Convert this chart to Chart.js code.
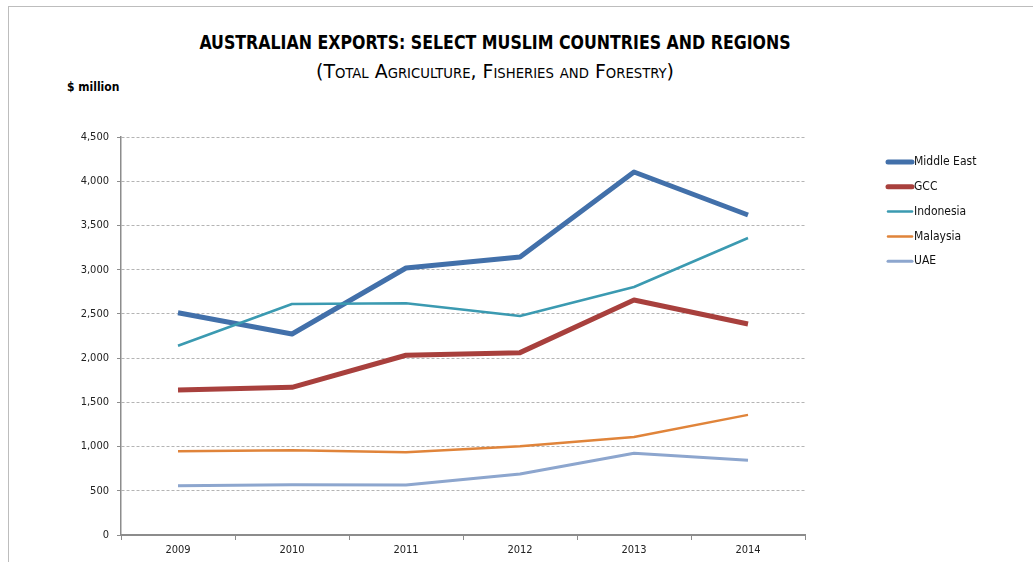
<!DOCTYPE html>
<html>
<head>
<meta charset="utf-8">
<script src="https://cdn.jsdelivr.net/npm/chart.js@4.4.1/dist/chart.umd.min.js"></script>
<style>
  body { margin: 0; background: #fff; }
  #wrap { position: relative; width: 1033px; height: 562px; overflow: hidden; }
  #frame { position: absolute; left: 8px; top: 6px; width: 1100px; height: 600px; border-top: 1px solid #bdbdbd; border-left: 1px solid #bdbdbd; }
  .t { position: absolute; left: 95px; width: 800px; text-align: center; color: #000; font-family: "Liberation Sans Narrow", "DejaVu Sans Condensed", "Liberation Sans", sans-serif; white-space: nowrap; }
  #title { top: 31px; font-size: 19px; font-weight: bold; transform: scaleX(0.925); }
  #sub { top: 59px; font-size: 20px; font-variant: small-caps; transform: scaleX(1.05); }
  #unit { position: absolute; left: 67px; top: 80px; font-size: 12px; font-weight: bold; font-family: "Liberation Sans Narrow", "DejaVu Sans Condensed", sans-serif; }
  canvas { position: absolute; left: 0; top: 0; }
</style>
</head>
<body>
<div id="wrap">
  <div id="frame"></div>
  <div class="t" id="title">AUSTRALIAN EXPORTS: SELECT MUSLIM COUNTRIES AND REGIONS</div>
  <div class="t" id="sub">(Total Agriculture, Fisheries and Forestry)</div>
  <div id="unit">$ million</div>
  <canvas id="exportsChart" width="1033" height="562"></canvas>
</div>
<script>
// Data ($ million)
const years = ["2009", "2010", "2011", "2012", "2013", "2014"];
const middleEast = [2512, 2273, 3019, 3143, 4104, 3618];
const gcc = [1640, 1670, 2032, 2062, 2657, 2386];
const indonesia = [2140, 2612, 2620, 2476, 2804, 3358];
const malaysia = [946, 958, 936, 1003, 1108, 1358];
const uae = [557, 569, 565, 690, 924, 845];
const yTicks = [0, 500, 1000, 1500, 2000, 2500, 3000, 3500, 4000, 4500];

const font = "'Liberation Sans Narrow', 'DejaVu Sans Condensed', sans-serif";

function series(label, data, color, width, order) {
  return {
    label: label,
    data: data,
    borderColor: color,
    backgroundColor: color,
    borderWidth: width,
    pointRadius: 0,
    tension: 0,
    fill: false,
    borderJoinStyle: "round",
    order: order,
  };
}

// legend drawn by hand so it sits where the original one is
const sideLegend = {
  id: "sideLegend",
  afterDraw(chart) {
    const ctx = chart.ctx;
    ctx.save();
    ctx.font = "12px " + font;
    ctx.textBaseline = "middle";
    ctx.fillStyle = "#111";
    chart.data.datasets.forEach((ds, i) => {
      const y = 162 + i * 24.8;
      ctx.strokeStyle = ds.borderColor;
      ctx.lineWidth = ds.borderWidth;
      ctx.lineCap = "round";
      ctx.beginPath();
      ctx.moveTo(888, y);
      ctx.lineTo(912, y);
      ctx.stroke();
      ctx.fillText(ds.label, 914, y);
    });
    ctx.restore();
  },
};

const ctx = document.getElementById("exportsChart").getContext("2d");
new Chart(ctx, {
  type: "line",
  data: {
    labels: years,
    datasets: [
      series("Middle East", middleEast, "#4270AA", 5, 5),
      series("GCC", gcc, "#A8403D", 5, 4),
      series("Indonesia", indonesia, "#3B9AB1", 2.5, 3),
      series("Malaysia", malaysia, "#E0843A", 2.5, 2),
      series("UAE", uae, "#8DA6CE", 3, 1),
    ],
  },
  options: {
    responsive: false,
    animation: false,
    layout: { padding: { left: 60, right: 228, top: 137, bottom: 0 } },
    plugins: {
      legend: { display: false },
      title: { display: false },
      tooltip: { enabled: false },
    },
    scales: {
      x: {
        offset: true,
        afterFit: (s) => { s.height = 27; },
        grid: {
          offset: true,
          drawOnChartArea: false,
          tickLength: 5,
          tickColor: "#8c8c8c",
        },
        border: { color: "#8c8c8c", width: 2 },
        ticks: { font: { family: font, size: 11 }, color: "#222", padding: 4 },
      },
      y: {
        min: 0,
        max: 4500,
        afterFit: (s) => { s.width = 61; },
        afterBuildTicks: (s) => { s.ticks = yTicks.map((v) => ({ value: v })); },
        grid: {
          color: "#b4b4b4",
          tickLength: 4,
          tickColor: "#8c8c8c",
          tickBorderDash: [],
        },
        border: { color: "#8c8c8c", width: 1.5, dash: [3, 2] },
        ticks: {
          font: { family: font, size: 11 },
          color: "#222",
          padding: 8,
          callback: (v) => v.toLocaleString("en-US"),
        },
      },
    },
  },
  plugins: [sideLegend],
});
</script>
</body>
</html>
